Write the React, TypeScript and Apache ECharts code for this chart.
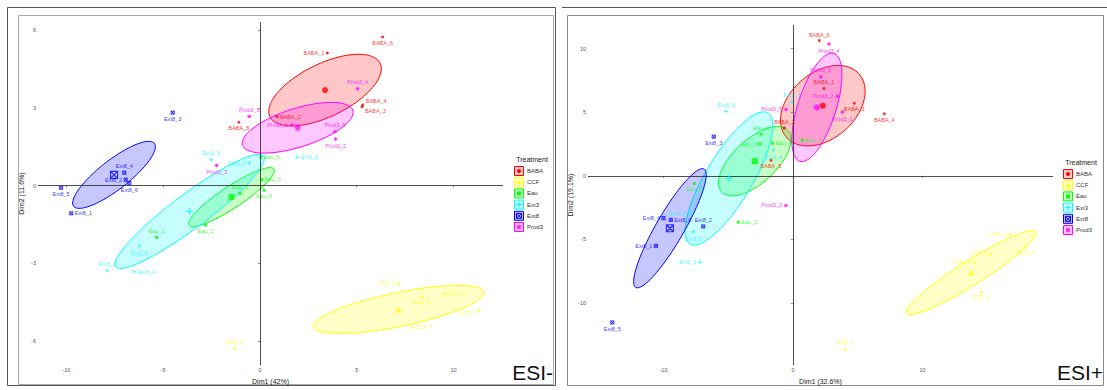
import React, { useEffect, useRef } from "react";
import * as echarts from "echarts";

// ---------------- data ----------------
const groups = ["BABA", "CCF", "Eau", "Ext3", "Ext8", "Prod3"];
const groupColors = ["#FF0000", "#FFFF00", "#00FF00", "#00FFFF", "#0000FF", "#FF00FF"];

// ESI- (Dim1 42%, Dim2 11.6%)
const negBABA = [["BABA_1", 3.48, 5.12], ["BABA_2", 0.88, 2.67], ["BABA_3", 5.27, 3.05], ["BABA_4", 5.31, 3.11], ["BABA_5", -1.09, 2.45], ["BABA_6", 6.34, 5.74]];
const negCCF = [["CCF_1", -1.31, -6.27], ["CCF_2", 9.56, -4.16], ["CCF_3", 7.18, -3.77], ["CCF_4", 7.87, -5.45], ["CCF_5", 11.33, -4.78], ["CCF_6", 8.36, -4.27]];
const negEau = [["Eau_1", -5.34, -2.0], ["Eau_2", -2.81, -1.52], ["Eau_3", 0.1, 0.24], ["Eau_4", 0.22, -0.18], ["Eau_5", 0.05, 1.1], ["Eau_6", -1.03, -0.3]];
const negExt3 = [["Ext3_1", -0.55, 0.87], ["Ext3_2", -7.89, -3.28], ["Ext3_3", -2.53, 1.0], ["Ext3_4", -6.51, -3.33], ["Ext3_5", -6.23, -2.32], ["Ext3_6", 1.91, 1.1]];
const negExt8 = [["Ext8_1", -9.75, -1.07], ["Ext8_2", -6.94, 0.23], ["Ext8_3", -4.51, 2.82], ["Ext8_4", -7.01, 0.5], ["Ext8_5", -10.28, -0.08], ["Ext8_6", -6.75, 0.1]];
const negProd3 = [["Prod3_1", 1.65, 2.34], ["Prod3_2", 3.91, 1.8], ["Prod3_3", -2.24, 0.78], ["Prod3_4", 5.05, 3.74], ["Prod3_5", 3.88, 2.09], ["Prod3_6", -0.55, 2.67]];

// ESI+ (Dim1 32.6%, Dim2 19.1%)
const posBABA = [["BABA_1", 2.39, 6.87], ["BABA_2", -0.67, 3.77], ["BABA_3", 4.73, 5.71], ["BABA_4", 7.05, 4.88], ["BABA_5", -1.7, 1.22], ["BABA_6", 2.03, 10.64]];
const posCCF = [["CCF_1", 4.02, -13.59], ["CCF_2", 16.8, -4.55], ["CCF_3", 14.52, -9.07], ["CCF_4", 18.0, -5.58], ["CCF_5", 15.27, -6.1], ["CCF_6", 14.0, -6.74]];
const posEau = [["Eau_1", 0.72, 2.81], ["Eau_2", -4.22, -3.64], ["Eau_3", -2.55, 2.5], ["Eau_4", -1.57, 2.56], ["Eau_5", -7.62, -0.6], ["Eau_6", -2.47, 3.28]];
const posExt3 = [["Ext3_1", -7.18, -6.8], ["Ext3_2", -8.0, -2.9], ["Ext3_3", -5.17, 5.06], ["Ext3_4", -1.52, 2.04], ["Ext3_5", -7.7, -4.4], ["Ext3_6", -0.1, 5.79]];
const posExt8 = [["Ext8_1", -10.58, -5.5], ["Ext8_2", -6.93, -3.98], ["Ext8_3", -6.12, 3.08], ["Ext8_4", -10.0, -3.33], ["Ext8_5", -13.95, -11.53], ["Ext8_6", -9.44, -3.46]];
const posProd3 = [["Prod3_1", 3.81, 5.01], ["Prod3_2", 3.42, 6.26], ["Prod3_3", -0.54, -2.33], ["Prod3_4", 2.78, 10.36], ["Prod3_5", -0.54, 5.22], ["Prod3_6", 2.14, 7.78]];

const negXTicks = [-10, -5, 0, 5, 10];
const negYTicks = [-6, -3, 0, 3, 6];
const posXTicks = [-10, 0, 10];
const posYTicks = [-10, -5, 0, 5, 10];

const panelTitles = ["ESI-", "ESI+"];
const xTitles = ["Dim1 (42%)", "Dim1 (32.6%)"];
const yTitles = ["Dim2 (11.6%)", "Dim2 (19.1%)"];

// ---------------- styling (not data) ----------------
// label placement: [position, dx, dy]
const negLabelPos: Record<string, any[]> = {
  BABA_1: ["left"], BABA_2: ["right"], BABA_3: ["right", 0, 4], BABA_4: ["right", 0, -4], BABA_5: ["bottom"], BABA_6: ["bottom"],
  CCF_1: ["top"], CCF_2: ["right"], CCF_3: ["left"], CCF_4: ["right"], CCF_5: ["left", 0, 4], CCF_6: ["bottom"],
  Eau_1: ["top"], Eau_2: ["bottom"], Eau_3: ["right"], Eau_4: ["bottom"], Eau_5: ["right"], Eau_6: ["top"],
  Ext3_1: ["left"], Ext3_2: ["top"], Ext3_3: ["top"], Ext3_4: ["right"], Ext3_5: ["bottom"], Ext3_6: ["right"],
  Ext8_1: ["right"], Ext8_2: ["left"], Ext8_3: ["bottom"], Ext8_4: ["top"], Ext8_5: ["bottom"], Ext8_6: ["bottom"],
  Prod3_1: ["left"], Prod3_2: ["bottom"], Prod3_3: ["bottom"], Prod3_4: ["top"], Prod3_5: ["top"], Prod3_6: ["top"],
};
const posLabelPos: Record<string, any[]> = {
  BABA_1: ["top"], BABA_2: ["top"], BABA_3: ["bottom"], BABA_4: ["bottom"], BABA_5: ["bottom"], BABA_6: ["top"],
  CCF_1: ["top"], CCF_2: ["left"], CCF_3: ["bottom"], CCF_4: ["bottom"], CCF_5: ["left"], CCF_6: ["left"],
  Eau_1: ["right"], Eau_2: ["right"], Eau_3: ["left"], Eau_4: ["right"], Eau_5: ["bottom"], Eau_6: ["top"],
  Ext3_1: ["left"], Ext3_2: ["left"], Ext3_3: ["top"], Ext3_4: ["bottom"], Ext3_5: ["bottom"], Ext3_6: ["top"],
  Ext8_1: ["left"], Ext8_2: ["top"], Ext8_3: ["bottom"], Ext8_4: ["left"], Ext8_5: ["bottom"], Ext8_6: ["right"],
  Prod3_1: ["bottom"], Prod3_2: ["left"], Prod3_3: ["left"], Prod3_4: ["bottom"], Prod3_5: ["left"], Prod3_6: ["top"],
};

const FONT = "'Liberation Sans', Arial, Helvetica, sans-serif";
const symbols = [
  "circle",
  "triangle",
  "rect",
  "path://M5,0L5,10M0,5L10,5",
  "path://M0,0L10,0L10,10L0,10ZM0,0L10,10M10,0L0,10",
  "path://M5,0L5,10M0,5L10,5M1.6,1.6L8.4,8.4M8.4,1.6L1.6,8.4",
];
const strokeOnly = [false, false, false, true, true, true];
const pointSizes = [3, 3.5, 3, 4, 3.2, 4];

function rgba(hex: string, a: number) {
  const r = parseInt(hex.slice(1, 3), 16);
  const g = parseInt(hex.slice(3, 5), 16);
  const b = parseInt(hex.slice(5, 7), 16);
  return `rgba(${r},${g},${b},${a})`;
}

function stats(pts: any[]) {
  const n = pts.length;
  const mx = pts.reduce((s, p) => s + p[1], 0) / n;
  const my = pts.reduce((s, p) => s + p[2], 0) / n;
  let sxx = 0, syy = 0, sxy = 0;
  pts.forEach((p) => {
    sxx += (p[1] - mx) ** 2;
    syy += (p[2] - my) ** 2;
    sxy += (p[1] - mx) * (p[2] - my);
  });
  return { mx, my, sxx: sxx / (n - 1), syy: syy / (n - 1), sxy: sxy / (n - 1) };
}

function ellipseRing(pts: any[]) {
  const { mx, my, sxx, syy, sxy } = stats(pts);
  const l11 = Math.sqrt(sxx);
  const l21 = sxy / l11;
  const l22 = Math.sqrt(Math.max(syy - l21 * l21, 0));
  const ring: number[][] = [];
  for (let i = 0; i < 100; i++) {
    const t = (i / 100) * Math.PI * 2;
    ring.push([mx + l11 * Math.cos(t), my + l21 * Math.cos(t) + l22 * Math.sin(t)]);
  }
  return ring;
}

function buildPanelSeries(panel: number, sets: any[][], labelPos: Record<string, any[]>) {
  const series: any[] = [];
  series.push({
    type: "line",
    xAxisIndex: panel,
    yAxisIndex: panel,
    data: [],
    silent: true,
    markLine: {
      silent: true,
      symbol: ["none", "none"],
      label: { show: false },
      lineStyle: { color: "#222", width: 0.8, type: "solid" },
      data: [{ xAxis: 0 }, { yAxis: 0 }],
    },
    z: 1,
  });
  sets.forEach((pts, gi) => {
    const color = groupColors[gi];
    const ring = ellipseRing(pts);
    const st = stats(pts);
    series.push({
      type: "custom",
      xAxisIndex: panel,
      yAxisIndex: panel,
      silent: true,
      data: [[st.mx, st.my]],
      renderItem: (_params: any, api: any) => ({
        type: "polygon",
        shape: { points: ring.map((p) => api.coord(p)) },
        style: { fill: rgba(color, 0.22), stroke: color, lineWidth: 1 },
      }),
      z: 2,
    });
    const so = strokeOnly[gi];
    series.push({
      type: "scatter",
      xAxisIndex: panel,
      yAxisIndex: panel,
      symbol: symbols[gi],
      symbolSize: pointSizes[gi],
      itemStyle: so
        ? { color: "rgba(0,0,0,0)", borderColor: color, borderWidth: 0.9 }
        : { color },
      data: pts.map((p) => {
        const lp = labelPos[p[0]] || ["right"];
        return {
          name: p[0],
          value: [p[1], p[2]],
          label: { position: lp[0], offset: [lp[1] || 0, lp[2] || 0] },
        };
      }),
      label: {
        show: true,
        formatter: "{b}",
        fontSize: 5.5,
        fontFamily: FONT,
        color,
        distance: 1.5,
      },
      z: 4,
    });
    series.push({
      type: "scatter",
      xAxisIndex: panel,
      yAxisIndex: panel,
      symbol: symbols[gi],
      symbolSize: so ? 7 : 6,
      itemStyle: so
        ? { color: "rgba(0,0,0,0)", borderColor: color, borderWidth: 1.2 }
        : { color },
      data: [[st.mx, st.my]],
      z: 5,
    });
  });
  return series;
}

function legendGraphics(x0: number, y0: number) {
  const els: any[] = [];
  els.push({
    type: "text",
    x: x0 + 13,
    y: y0,
    style: { text: "Treatment", fontSize: 7, fontFamily: FONT, fill: "#222", align: "center", verticalAlign: "middle" },
  });
  groups.forEach((g, i) => {
    const cy = y0 + 12 + i * 11.2;
    const c = groupColors[i];
    const cx = x0;
    els.push({
      type: "rect",
      shape: { x: cx - 4.5, y: cy - 4.5, width: 9, height: 9 },
      style: { fill: rgba(c, 0.22), stroke: c, lineWidth: 1 },
    });
    const st = { stroke: c, lineWidth: 1, fill: "none" };
    if (i === 0) els.push({ type: "circle", shape: { cx, cy, r: 2 }, style: { fill: c } });
    if (i === 1) els.push({ type: "polygon", shape: { points: [[cx, cy - 2.5], [cx + 2.5, cy + 2], [cx - 2.5, cy + 2]] }, style: { fill: c } });
    if (i === 2) els.push({ type: "rect", shape: { x: cx - 2, y: cy - 2, width: 4, height: 4 }, style: { fill: c } });
    if (i === 3) {
      els.push({ type: "line", shape: { x1: cx - 3, y1: cy, x2: cx + 3, y2: cy }, style: st });
      els.push({ type: "line", shape: { x1: cx, y1: cy - 3, x2: cx, y2: cy + 3 }, style: st });
    }
    if (i === 4) {
      els.push({ type: "rect", shape: { x: cx - 2.5, y: cy - 2.5, width: 5, height: 5 }, style: st });
      els.push({ type: "line", shape: { x1: cx - 2.5, y1: cy - 2.5, x2: cx + 2.5, y2: cy + 2.5 }, style: st });
      els.push({ type: "line", shape: { x1: cx + 2.5, y1: cy - 2.5, x2: cx - 2.5, y2: cy + 2.5 }, style: st });
    }
    if (i === 5) {
      els.push({ type: "line", shape: { x1: cx - 2.5, y1: cy, x2: cx + 2.5, y2: cy }, style: st });
      els.push({ type: "line", shape: { x1: cx, y1: cy - 2.5, x2: cx, y2: cy + 2.5 }, style: st });
      els.push({ type: "line", shape: { x1: cx - 1.8, y1: cy - 1.8, x2: cx + 1.8, y2: cy + 1.8 }, style: st });
      els.push({ type: "line", shape: { x1: cx + 1.8, y1: cy - 1.8, x2: cx - 1.8, y2: cy + 1.8 }, style: st });
    }
    els.push({
      type: "text",
      x: cx + 8,
      y: cy,
      style: { text: g, fontSize: 6, fontFamily: FONT, fill: "#333", align: "left", verticalAlign: "middle" },
    });
  });
  return els;
}

function axisPair(grid: number, xmin: number, xmax: number, ymin: number, ymax: number, xt: number[], yt: number[], xTitle: string, yTitle: string) {
  const common = {
    type: "value",
    gridIndex: grid,
    axisLine: { show: false },
    splitLine: { show: false },
    axisTick: { show: true, length: 2, lineStyle: { color: "#444", width: 0.6 } },
    nameTextStyle: { fontSize: 7, fontFamily: FONT, color: "#222" },
    nameLocation: "middle",
  };
  const x = {
    ...common,
    min: xmin,
    max: xmax,
    name: xTitle,
    nameGap: 12,
    axisTick: { ...common.axisTick, customValues: xt },
    axisLabel: { customValues: xt, fontSize: 5.5, fontFamily: FONT, color: "#555", margin: 2 },
  };
  const y = {
    ...common,
    min: ymin,
    max: ymax,
    name: yTitle,
    nameGap: 13,
    axisTick: { ...common.axisTick, customValues: yt },
    axisLabel: { customValues: yt, fontSize: 5.5, fontFamily: FONT, color: "#555", margin: 2 },
  };
  return { x, y };
}

export default function App() {
  const ref = useRef<HTMLDivElement>(null);
  useEffect(() => {
    if (!ref.current) return;
    const chart = echarts.init(ref.current, null, { renderer: "svg" });
    const a0 = axisPair(0, -11.47, 12.56, -6.93, 6.32, negXTicks, negYTicks, xTitles[0], yTitles[0]);
    const a1 = axisPair(1, -15.83, 20.08, -14.88, 11.86, posXTicks, posYTicks, xTitles[1], yTitles[1]);
    const series = [
      ...buildPanelSeries(0, [negBABA, negCCF, negEau, negExt3, negExt8, negProd3], negLabelPos),
      ...buildPanelSeries(1, [posBABA, posCCF, posEau, posExt3, posExt8, posProd3], posLabelPos),
    ];
    const graphic: any[] = [
      { type: "rect", shape: { x: 7.5, y: 7.5, width: 548, height: 378 }, style: { fill: "none", stroke: "#555", lineWidth: 1 }, silent: true },
      { type: "rect", shape: { x: 18.5, y: 15.5, width: 535, height: 369 }, style: { fill: "none", stroke: "#aaa", lineWidth: 1 }, silent: true },
      { type: "line", shape: { x1: 562, y1: 7.5, x2: 1107, y2: 7.5 }, style: { stroke: "#555", lineWidth: 1 }, silent: true },
      { type: "rect", shape: { x: 567.5, y: 15.5, width: 536, height: 370 }, style: { fill: "none", stroke: "#888", lineWidth: 1 }, silent: true },
      ...legendGraphics(519, 159),
      ...legendGraphics(1068, 162),
      { type: "text", x: 553, y: 383, style: { text: panelTitles[0], fontSize: 21, fontFamily: FONT, fill: "#111", align: "right", verticalAlign: "bottom" } },
      { type: "text", x: 1103, y: 383, style: { text: panelTitles[1], fontSize: 21, fontFamily: FONT, fill: "#111", align: "right", verticalAlign: "bottom" } },
    ];
    chart.setOption({
      animation: false,
      backgroundColor: "#fff",
      grid: [
        { left: 38, top: 22, width: 465, height: 346 },
        { left: 588, top: 25, width: 465, height: 345 },
      ],
      xAxis: [a0.x, a1.x],
      yAxis: [a0.y, a1.y],
      series,
      graphic,
    });
    return () => chart.dispose();
  }, []);
  return (
    <div
      ref={ref}
      style={{ position: "absolute", left: 0, top: 0, width: 1107, height: 390, background: "#fff" }}
    />
  );
}
